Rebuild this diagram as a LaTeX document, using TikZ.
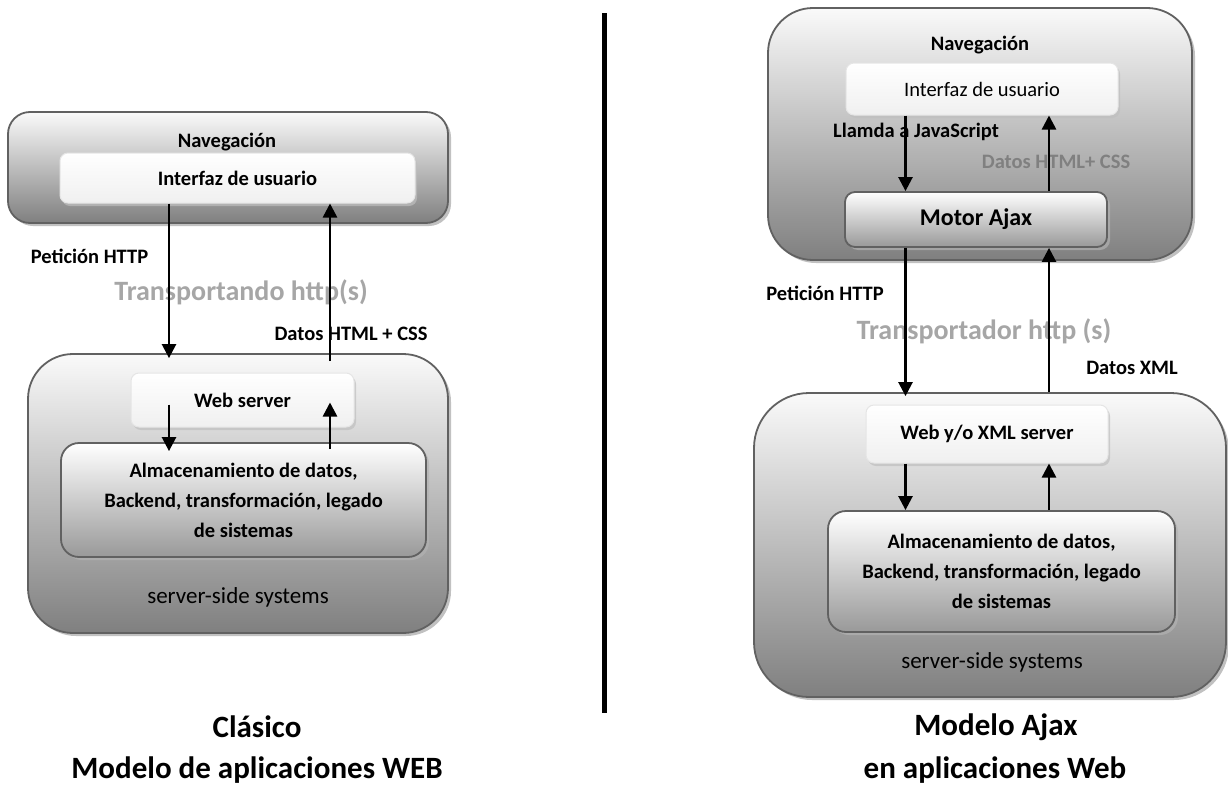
\documentclass[tikz,border=0pt]{standalone}
\usepackage{fontspec}
\setmainfont{Carlito}
\usetikzlibrary{arrows.meta,shadows}
\begin{document}
\begin{tikzpicture}[x=1pt,y=-1pt,
  lbl/.style={font=\fontsize{20.5}{24}\selectfont\bfseries, inner sep=0pt},
  outerbox/.style={draw=black!62, line width=1.8pt, top color=black!2, bottom color=black!50,
    drop shadow={shadow xshift=3pt, shadow yshift=-3pt, fill=black!35, opacity=0.7}, inner sep=0pt},
  lightbox/.style={draw=black!10, line width=1pt, top color=white, bottom color=black!6, rounded corners=8pt,
    drop shadow={shadow xshift=2pt, shadow yshift=-3pt, fill=black!25, opacity=0.7}, inner sep=0pt,
    font=\fontsize{20.5}{24}\selectfont\bfseries},
  darkbox/.style={draw=black!62, line width=1.8pt, top color=white, bottom color=black!40,
    drop shadow={shadow xshift=3pt, shadow yshift=-3pt, fill=black!30, opacity=0.7}, inner sep=0pt,
    font=\fontsize{20.5}{30}\selectfont\bfseries, align=center},
  ghost/.style={text=black!35, font=\fontsize{28}{32}\selectfont\bfseries, inner sep=0pt},
  sidecap/.style={font=\fontsize{23}{26}\selectfont, inner sep=0pt},
  title/.style={font=\fontsize{31}{36}\selectfont\bfseries, inner sep=0pt},
  flow/.style={line width=2.5pt, -{Triangle[width=14pt,length=14pt]}}
]
\useasboundingbox (0,0) rectangle (1228,787);

% ---------- classic model (left) ----------
\node[outerbox, rounded corners=22pt, minimum width=440pt, minimum height=111pt] (ltop) at (228,167.5) {};
\node[lbl] (lnav) at (227,142) {Navegación};
\node[lightbox, minimum width=355pt, minimum height=50pt] (lui) at (237.5,178) {Interfaz de usuario};

\node[outerbox, rounded corners=45pt, minimum width=420pt, minimum height=279pt] (lbot) at (238,493.5) {};
\node[lightbox, minimum width=223pt, minimum height=54pt] (lws) at (242.5,400) {Web server};
\node[darkbox, rounded corners=18pt, minimum width=365pt, minimum height=114pt] (lstore) at (243.5,500)
  {Almacenamiento de datos,\\Backend, transformación, legado\\de sistemas};
\node[sidecap] (lside) at (238,597) {server-side systems};

\node[lbl] (lreq) at (89.5,256) {Petición HTTP};
\node[ghost] (ltrans) at (241,292) {Transportando http(s)};
\node[lbl] (lresp) at (351,334) {Datos HTML + CSS};

\node[title] (lt1) at (257,727) {Clásico};
\node[title] (lt2) at (257,770) {Modelo de aplicaciones WEB};

% ---------- separator ----------
\draw[line width=5pt] (604,13) -- (604,713);

% ---------- Ajax model (right) ----------
\node[outerbox, rounded corners=45pt, minimum width=424pt, minimum height=252pt] (rtop) at (980,134) {};
\node[lbl] (rnav) at (980,45) {Navegación};
\node[lightbox, minimum width=272pt, minimum height=52pt, font=\fontsize{20.5}{24}\selectfont] (rui) at (982,89) {Interfaz de usuario};
\node[darkbox, rounded corners=10pt, minimum width=262pt, minimum height=55pt, font=\fontsize{24}{28}\selectfont\bfseries] (rmotor) at (976,219.5) {Motor Ajax};
\node[lbl] (rcall) at (916,132) {Llamda a JavaScript};
\node[lbl, text=black!50] (rresp1) at (1056,162) {Datos HTML+ CSS};

\node[outerbox, rounded corners=55pt, minimum width=472pt, minimum height=304pt] (rbot) at (990,545) {};
\node[lightbox, minimum width=242pt, minimum height=58pt] (rws) at (987,434) {Web y/o XML server};
\node[darkbox, rounded corners=18pt, minimum width=347pt, minimum height=121pt] (rstore) at (1001.5,571.5)
  {Almacenamiento de datos,\\Backend, transformación, legado\\de sistemas};
\node[sidecap] (rside) at (992,662) {server-side systems};

\node[lbl] (rreq) at (825,293) {Petición HTTP};
\node[ghost] (rtrans) at (984,331) {Transportador http (s)};
\node[lbl] (rresp2) at (1132,368) {Datos XML};

\node[title] (rt1) at (996,727) {Modelo Ajax};
\node[title] (rt2) at (995,770) {en aplicaciones Web};

% ---------- connectors ----------
\coordinate (lx1) at (169,0);
\coordinate (lx2) at (330,0);
\coordinate (rx1) at (905.5,0);
\coordinate (rx2) at (1049,0);

\draw[flow, shorten >=-5pt] (lui.south -| lx1) -- (lbot.north -| lx1);
\draw[flow, shorten <=-8pt] (lbot.north -| lx2) -- (lui.south -| lx2);
\draw[flow, shorten <=-23pt, shorten >=-9pt] (lws.south -| lx1) -- (lstore.north -| lx1);
\draw[flow, shorten <=-7pt, shorten >=-25pt] (lstore.north -| lx2) -- (lws.south -| lx2);

\draw[flow] (rui.south -| rx1) -- (rmotor.north -| rx1);
\draw[flow] (rmotor.north -| rx2) -- (rui.south -| rx2);
\draw[flow, shorten >=-4pt] (rmotor.south -| rx1) -- (rbot.north -| rx1);
\draw[flow] (rbot.north -| rx2) -- (rmotor.south -| rx2);
\draw[flow] (rws.south -| rx1) -- (rstore.north -| rx1);
\draw[flow] (rstore.north -| rx2) -- (rws.south -| rx2);
\end{tikzpicture}
\end{document}
